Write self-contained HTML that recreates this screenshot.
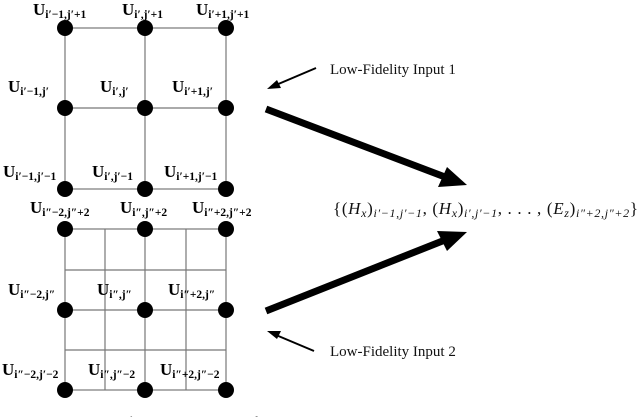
<!DOCTYPE html>
<html><head><meta charset="utf-8"><style>
html,body{margin:0;padding:0;background:#fff;}
svg{display:block;}
.u{font-family:"Liberation Serif",serif;font-weight:bold;font-size:17px;fill:#000;}
.s{font-size:11.5px;}
.t{font-family:"Liberation Serif",serif;font-size:15px;fill:#111;}
</style></head><body>
<svg width="640" height="417" viewBox="0 0 640 417" xmlns="http://www.w3.org/2000/svg">
<g stroke="#777" stroke-width="1.2" fill="none">
<rect x="65" y="28" width="161" height="161"/>
<line x1="145" y1="28" x2="145" y2="189"/><line x1="65" y1="108" x2="226" y2="108"/>
<rect x="65" y="229" width="161" height="161"/>
<line x1="145" y1="229" x2="145" y2="390"/><line x1="65" y1="310" x2="226" y2="310"/>
<line x1="105" y1="229" x2="105" y2="390"/><line x1="186" y1="229" x2="186" y2="390"/>
<line x1="65" y1="270" x2="226" y2="270"/><line x1="65" y1="350" x2="226" y2="350"/>
</g>
<g fill="#000">
<circle cx="65" cy="28" r="8"/><circle cx="145" cy="28" r="8"/><circle cx="226" cy="28" r="8"/>
<circle cx="65" cy="108" r="8"/><circle cx="145" cy="108" r="8"/><circle cx="226" cy="108" r="8"/>
<circle cx="65" cy="189" r="8"/><circle cx="145" cy="189" r="8"/><circle cx="226" cy="189" r="8"/>
<circle cx="65" cy="229" r="8"/><circle cx="145" cy="229" r="8"/><circle cx="226" cy="229" r="8"/>
<circle cx="65" cy="310" r="8"/><circle cx="145" cy="310" r="8"/><circle cx="226" cy="310" r="8"/>
<circle cx="65" cy="390" r="8"/><circle cx="145" cy="390" r="8"/><circle cx="226" cy="390" r="8"/>
</g>
<g class="u">
<text x="33" y="15">U<tspan class="s" dy="3">i′−1,j′+1</tspan></text>
<text x="122" y="15">U<tspan class="s" dy="3">i′,j′+1</tspan></text>
<text x="196" y="15">U<tspan class="s" dy="3">i′+1,j′+1</tspan></text>
<text x="8" y="92">U<tspan class="s" dy="3">i′−1,j′</tspan></text>
<text x="100" y="92">U<tspan class="s" dy="3">i′,j′</tspan></text>
<text x="172" y="92">U<tspan class="s" dy="3">i′+1,j′</tspan></text>
<text x="3" y="177">U<tspan class="s" dy="3">i′−1,j′−1</tspan></text>
<text x="92" y="177">U<tspan class="s" dy="3">i′,j′−1</tspan></text>
<text x="164" y="177">U<tspan class="s" dy="3">i′+1,j′−1</tspan></text>
<text x="30" y="213">U<tspan class="s" dy="3">i″−2,j″+2</tspan></text>
<text x="120" y="213">U<tspan class="s" dy="3">i″,j″+2</tspan></text>
<text x="192" y="213">U<tspan class="s" dy="3">i″+2,j″+2</tspan></text>
<text x="8" y="295">U<tspan class="s" dy="3">i″−2,j″</tspan></text>
<text x="97" y="295">U<tspan class="s" dy="3">i″,j″</tspan></text>
<text x="168" y="295">U<tspan class="s" dy="3">i″+2,j″</tspan></text>
<text x="2" y="375">U<tspan class="s" dy="3">i″−2,j′−2</tspan></text>
<text x="88" y="375">U<tspan class="s" dy="3">i″,j″−2</tspan></text>
<text x="160" y="375">U<tspan class="s" dy="3">i″+2,j″−2</tspan></text>
</g>
<line x1="266" y1="109" x2="445" y2="177" stroke="#000" stroke-width="7"/>
<polygon points="467,185 438,187 447,167" fill="#000"/>
<line x1="266" y1="311" x2="445" y2="240" stroke="#000" stroke-width="7"/>
<polygon points="467,232 447,251 437,231" fill="#000"/>
<line x1="316" y1="68" x2="276" y2="85" stroke="#000" stroke-width="2"/>
<polygon points="267,89 277,80 281,88" fill="#000"/>
<line x1="314" y1="351" x2="276" y2="335" stroke="#000" stroke-width="2"/>
<polygon points="267,331 281,331 277,339" fill="#000"/>
<text class="t" x="330" y="74">Low-Fidelity Input 1</text>
<text class="t" x="330" y="356">Low-Fidelity Input 2</text>
<text class="t" x="333" y="214" textLength="305" lengthAdjust="spacing" style="font-size:17px">{(<tspan font-style="italic">H</tspan><tspan font-size="12" dy="3" font-style="italic">x</tspan><tspan dy="-3">)</tspan><tspan font-size="12" dy="3" font-style="italic">i′−1,j′−1</tspan><tspan dy="-3">, (</tspan><tspan font-style="italic">H</tspan><tspan font-size="12" dy="3" font-style="italic">x</tspan><tspan dy="-3">)</tspan><tspan font-size="12" dy="3" font-style="italic">i′,j′−1</tspan><tspan dy="-3">, . . . , (</tspan><tspan font-style="italic">E</tspan><tspan font-size="12" dy="3" font-style="italic">z</tspan><tspan dy="-3">)</tspan><tspan font-size="12" dy="3" font-style="italic">i″+2,j″+2</tspan><tspan dy="-3">}</tspan></text>
<text class="t" x="120" y="427" style="font-size:15px"><tspan font-weight="bold">Figure 3:</tspan> Examples of comparative inputs to CCNN.</text>
</svg>
</body></html>
